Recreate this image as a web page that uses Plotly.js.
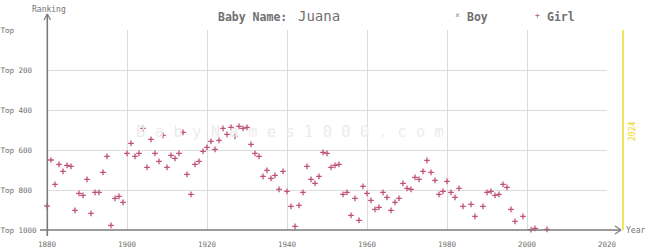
<!DOCTYPE html>
<html><head><meta charset="utf-8">
<script src="https://cdn.plot.ly/plotly-3.0.1.min.js"></script>
<style>html,body{margin:0;padding:0;background:#fff}</style>
</head><body><div id="chart" style="width:645px;height:250px"></div>
<script>
const babyName = "Juana";
const currentYear = 2024;
const girlYears = [1880,1881,1882,1883,1884,1885,1886,1887,1888,1889,1890,1891,1892,1893,1894,1895,1896,1897,1898,1899,
  1900,1901,1902,1903,1904,1905,1906,1907,1908,1909,1910,1911,1912,1913,1914,1915,1916,1917,1918,1919,
  1920,1921,1922,1923,1924,1925,1926,1927,1928,1929,1930,1931,1932,1933,1934,1935,1936,1937,1938,1939,
  1940,1941,1942,1943,1944,1945,1946,1947,1948,1949,1950,1951,1952,1953,1954,1955,1956,1957,1958,1959,
  1960,1961,1962,1963,1964,1965,1966,1967,1968,1969,1970,1971,1972,1973,1974,1975,1976,1977,1978,1979,
  1980,1981,1982,1983,1984,1986,1987,1989,1990,1991,1992,1993,1994,1995,1996,1997,1999,2001,2002,2005];
const girlRanks = [880,650,772,672,707,677,682,902,817,827,747,917,812,812,712,632,977,842,832,862,
  617,567,632,617,492,687,547,617,657,527,687,627,642,617,512,722,822,672,657,607,
  587,557,597,552,492,522,487,532,482,492,487,572,617,632,732,702,742,727,797,707,
  807,882,982,877,812,682,747,767,732,612,617,687,677,672,822,812,927,842,952,782,
  817,852,897,887,812,837,902,862,842,767,792,797,737,747,707,652,712,752,822,807,
  757,812,837,792,882,872,932,882,812,807,827,822,772,787,897,957,932,999,992,997];
const boyYears = [];
const boyRanks = [];
const xTickVals = [1880,1900,1920,1940,1960,1980,2000,2020];
const xTickText = ["1880","1900","1920","1940","1960","1980","2000","2020"];
const yTickVals = [0,200,400,600,800,1000];
const yTickText = ["Top","Top 200","Top 400","Top 600","Top 800","Top 1000"];

const W = 645, H = 250, ML = 47, MR = 38, MT = 30, MB = 20;
const PW = W - ML - MR, PH = H - MT - MB;
const px = x => (x - ML) / PW;
const py = y => (H - MB - y) / PH;
const xr = [1880, 2020];
const yearToPaper = yr => (yr - xr[0]) / (xr[1] - xr[0]);

const mono = "DejaVu Sans Mono";
const grey = "#707070";
const axisCol = "#7a7a7a";
const pink = "#c0507a";
const yellow = "#f0d400";

const pad = s => { let t = s.replace(/ /g, "\u00a0"); while (t.length < 8) t += "\u00a0"; return t; };

const traces = [
  {x: boyYears, y: boyRanks, type: "scatter", mode: "markers", name: "Boy",
   marker: {symbol: "x-thin-open", size: 4, color: "#8890a8", line: {width: 1.2, color: "#8890a8"}}},
  {x: girlYears, y: girlRanks, type: "scatter", mode: "markers", name: "Girl", cliponaxis: false,
   marker: {symbol: "cross-thin-open", size: 4, color: pink, line: {width: 1.3, color: pink}}}
];

const lineSeg = (x0, y0, x1, y1, color, width) => ({type: "line", xref: "paper", yref: "paper",
  x0: px(x0), y0: py(y0), x1: px(x1), y1: py(y1), line: {color: color, width: width}});

const shapes = [
  lineSeg(40, 230, 621, 230, axisCol, 1.6),
  lineSeg(615, 226, 621, 230, axisCol, 1.2),
  lineSeg(615, 234, 621, 230, axisCol, 1.2),
  lineSeg(47.3, 236, 47.3, 14, axisCol, 1.6),
  lineSeg(44, 20, 47.3, 14, axisCol, 1.2),
  lineSeg(50.6, 20, 47.3, 14, axisCol, 1.2),
  {type: "line", xref: "paper", yref: "paper", x0: yearToPaper(currentYear), x1: yearToPaper(currentYear),
   y0: 0, y1: 1, line: {color: yellow, width: 1.3}}
];

const ann = (text, x, y, size, color, extra) => Object.assign({text: text, xref: "paper", yref: "paper",
  x: px(x), y: py(y), xanchor: "center", yanchor: "middle", showarrow: false,
  font: {family: mono, size: size, color: color}}, extra || {});

const annotations = [
  ann("B a b y N a m e s 1 0 0 0 . c o m", 290, 132, 15.5, "#ececec"),
  ann("Ranking", 49, 9, 8, grey),
  ann("<b>Baby Name:</b>", 216, 17, 11.5, grey, {xanchor: "left"}),
  ann(babyName, 296, 16, 14, grey, {xanchor: "left"}),
  ann("×", 457, 16, 8, "#8890a8"),
  ann("<b>Boy</b>", 465, 17, 11.5, grey, {xanchor: "left"}),
  ann("+", 537, 16, 8, pink),
  ann("<b>Girl</b>", 545, 17, 11.5, grey, {xanchor: "left"}),
  ann("Year", 624, 230, 8, grey, {xanchor: "left"}),
  ann(String(currentYear), 47 + yearToPaper(currentYear) * PW + 9, 132, 8, yellow, {textangle: -90})
];

const layout = {
  width: W, height: H, margin: {l: ML, r: MR, t: MT, b: MB, pad: 0},
  paper_bgcolor: "#fff", plot_bgcolor: "#fff", showlegend: false,
  font: {family: mono, size: 8, color: grey},
  xaxis: {range: xr, tickvals: xTickVals, ticktext: xTickText, showgrid: true, gridcolor: "#dcdcdc", gridwidth: 1,
    zeroline: false, showline: false, ticks: "outside", ticklen: 7, tickcolor: "rgba(0,0,0,0)",
    tickfont: {family: mono, size: 7.5, color: grey}, fixedrange: true},
  yaxis: {range: [1000, 0], tickvals: yTickVals, ticktext: yTickText.map(pad), showgrid: true, gridcolor: "#dcdcdc", gridwidth: 1,
    zeroline: false, showline: false, ticks: "outside", ticklen: 8, tickcolor: "rgba(0,0,0,0)",
    tickfont: {family: mono, size: 7.5, color: grey}, fixedrange: true},
  shapes: shapes, annotations: annotations
};

Plotly.newPlot("chart", traces, layout, {displayModeBar: false, staticPlot: true});
</script>
</body></html>
